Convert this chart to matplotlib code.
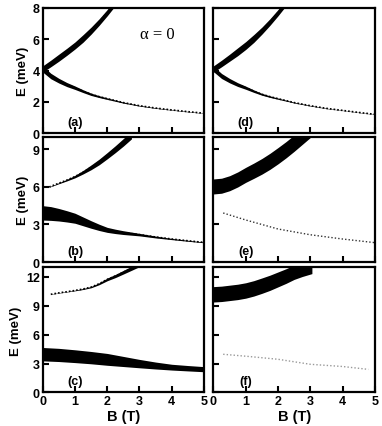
import numpy as np
import matplotlib.pyplot as plt

plt.rcParams['font.family'] = ['Liberation Sans', 'DejaVu Sans']
plt.rcParams['font.weight'] = 'bold'

# ---- data: branch centre energy (meV) and band width (meV) vs B (T) ----
# panel (a)
a_up_B = [0, 0.25, 0.5, 0.75, 1.0, 1.25, 1.5, 1.75, 2.0, 2.25]
a_up_E = [4.1, 4.45, 4.82, 5.2, 5.6, 6.05, 6.55, 7.1, 7.7, 8.35]
a_up_W = [0.4, 0.42, 0.45, 0.45, 0.45, 0.48, 0.45, 0.42, 0.4, 0.4]
a_lo_B = [0, 0.25, 0.5, 0.75, 1.0, 1.25, 1.5, 1.75, 2.0, 2.5, 3.0, 3.5, 4.0, 4.5, 5.0]
a_lo_E = [4.1, 3.65, 3.35, 3.1, 2.9, 2.68, 2.48, 2.33, 2.2, 1.95, 1.75, 1.6, 1.48, 1.37, 1.27]
a_lo_W = [0.4, 0.35, 0.3, 0.26, 0.22, 0.18, 0.15, 0.12, 0.1, 0.07, 0.05, 0.04, 0.03, 0.03, 0.02]

# panel (d)
d_up_B = a_up_B
d_up_E = [4.1, 4.45, 4.82, 5.2, 5.6, 6.05, 6.55, 7.1, 7.7, 8.35]
d_up_W = [0.4, 0.42, 0.45, 0.5, 0.5, 0.5, 0.45, 0.42, 0.4, 0.4]
d_lo_B = a_lo_B
d_lo_E = [4.1, 3.65, 3.35, 3.1, 2.9, 2.68, 2.48, 2.33, 2.2, 1.95, 1.75, 1.58, 1.45, 1.32, 1.2]
d_lo_W = [0.35, 0.32, 0.28, 0.24, 0.2, 0.16, 0.12, 0.1, 0.08, 0.05, 0.04, 0.03, 0.02, 0.02, 0.02]

# panel (b)
b_up_B = [0.2, 0.5, 0.75, 1.0, 1.25, 1.5, 1.75, 2.0, 2.25, 2.5, 2.75]
b_up_E = [6.0, 6.3, 6.55, 6.83, 7.18, 7.57, 8.0, 8.5, 9.02, 9.57, 10.15]
b_up_W = [0.04, 0.08, 0.13, 0.2, 0.28, 0.38, 0.45, 0.5, 0.55, 0.6, 0.62]
b_lo_B = [0, 0.25, 0.5, 0.75, 1.0, 1.25, 1.5, 1.75, 2.0, 2.25, 2.5, 3.0, 3.5, 4.0, 4.5, 5.0]
b_lo_E = [3.93, 3.88, 3.78, 3.65, 3.5, 3.25, 3.0, 2.77, 2.57, 2.45, 2.35, 2.19, 2.0, 1.84, 1.7, 1.57]
b_lo_W = [1.15, 1.1, 1.0, 0.9, 0.8, 0.7, 0.6, 0.5, 0.4, 0.35, 0.3, 0.2, 0.15, 0.1, 0.08, 0.06]

# panel (e)
e_up_B = [0, 0.25, 0.5, 0.75, 1.0, 1.25, 1.5, 1.75, 2.0, 2.25, 2.5, 2.75, 3.0]
e_up_E = [6.04, 6.1, 6.3, 6.6, 6.97, 7.3, 7.65, 8.05, 8.5, 8.98, 9.5, 10.05, 10.6]
e_up_W = [1.2, 1.2, 1.2, 1.2, 1.2, 1.22, 1.25, 1.28, 1.3, 1.3, 1.3, 1.3, 1.3]
e_lo_B = [0.3, 1.0, 2.0, 3.0, 4.0, 5.0]
e_lo_E = [3.92, 3.36, 2.64, 2.18, 1.84, 1.55]

# panel (c)
c_up_B = [0.25, 0.5, 0.75, 1.0, 1.25, 1.5, 1.75, 2.0, 2.25, 2.5, 2.75, 3.0]
c_up_E = [10.2, 10.35, 10.47, 10.6, 10.75, 10.95, 11.3, 11.75, 12.1, 12.5, 12.9, 13.3]
c_up_W = [0.03, 0.04, 0.05, 0.07, 0.1, 0.14, 0.2, 0.28, 0.33, 0.38, 0.42, 0.45]
c_lo_B = [0, 0.5, 1.0, 1.5, 2.0, 2.5, 3.0, 3.5, 4.0, 4.5, 5.0]
c_lo_E = [3.98, 3.9, 3.77, 3.62, 3.44, 3.22, 3.0, 2.8, 2.63, 2.52, 2.42]
c_lo_W = [1.39, 1.37, 1.33, 1.28, 1.23, 1.05, 0.87, 0.72, 0.6, 0.56, 0.53]

# panel (f)
f_up_B = [0, 0.25, 0.5, 0.75, 1.0, 1.25, 1.5, 1.75, 2.0, 2.25, 2.5, 2.75, 3.05]
f_up_E = [10.2, 10.25, 10.35, 10.45, 10.6, 10.82, 11.1, 11.4, 11.75, 12.1, 12.5, 12.8, 13.1]
f_up_W = [1.6, 1.6, 1.6, 1.6, 1.6, 1.6, 1.6, 1.58, 1.55, 1.52, 1.5, 1.5, 1.5]
f_lo_B = [0.3, 1.1, 2.0, 3.0, 4.0, 4.8]
f_lo_E = [3.97, 3.74, 3.45, 2.93, 2.7, 2.4]

ylims = [8, 10, 13]
yticks = [[0, 2, 4, 6, 8], [0, 3, 6, 9], [0, 3, 6, 9, 12]]
labels = [['(a)', '(d)'], ['(b)', '(e)'], ['(c)', '(f)']]

bands = [
    [[(a_up_B, a_up_E, a_up_W), (a_lo_B, a_lo_E, a_lo_W)],
     [(d_up_B, d_up_E, d_up_W), (d_lo_B, d_lo_E, d_lo_W)]],
    [[(b_up_B, b_up_E, b_up_W), (b_lo_B, b_lo_E, b_lo_W)],
     [(e_up_B, e_up_E, e_up_W)]],
    [[(c_up_B, c_up_E, c_up_W), (c_lo_B, c_lo_E, c_lo_W)],
     [(f_up_B, f_up_E, f_up_W)]],
]
# faint dotted branches: (B, E, colour)
dots = {(1, 1): [(e_lo_B, e_lo_E, '0.2')],
        (2, 1): [(f_lo_B, f_lo_E, '0.6')]}

fig = plt.figure(figsize=(3.82, 4.27), dpi=100)
lefts = [0.1118, 0.5589]
bottoms = [0.686, 0.384, 0.0785]
w, h = 0.4223, 0.293

for r in range(3):
    for c in range(2):
        ax = fig.add_axes([lefts[c], bottoms[r], w, h])
        for B, E, W in bands[r][c]:
            B = np.array(B); E = np.array(E); W = np.array(W)
            ax.fill_between(B, E - W / 2, E + W / 2, color='black', lw=0)
            ax.plot(B, E, color='black', lw=1.2, ls=(0, (1, 1.2)))
        for B, E, col in dots.get((r, c), []):
            ax.plot(B, E, color=col, lw=1.0, ls=(0, (1, 1.5)))
        ax.set_xlim(0, 5)
        ax.set_ylim(0, ylims[r])
        ax.set_xticks([0, 1, 2, 3, 4, 5])
        ax.set_yticks(yticks[r])
        ax.tick_params(direction='in', length=4, width=1.5, labelsize=9,
                       top=False, right=False, pad=2)
        for s in ax.spines.values():
            s.set_linewidth(1.6)
        if r < 2:
            ax.set_xticklabels([])
        else:
            ax.set_xlabel('B (T)', fontsize=10.5, fontweight='bold', labelpad=1)
        if c == 1:
            ax.set_yticklabels([])
        else:
            ax.set_ylabel('E (meV)', fontsize=9.5, fontweight='bold', labelpad=3)
        ax.text(0.2, 0.04, labels[r][c], transform=ax.transAxes, ha='center',
                va='bottom', fontsize=9, fontweight='bold')
        if r == 0 and c == 0:
            ax.text(0.71, 0.79, 'α = 0', transform=ax.transAxes, ha='center',
                    va='center', fontsize=12, fontweight='normal',
                    family='Liberation Serif')

fig.savefig('out.png', dpi=100)
